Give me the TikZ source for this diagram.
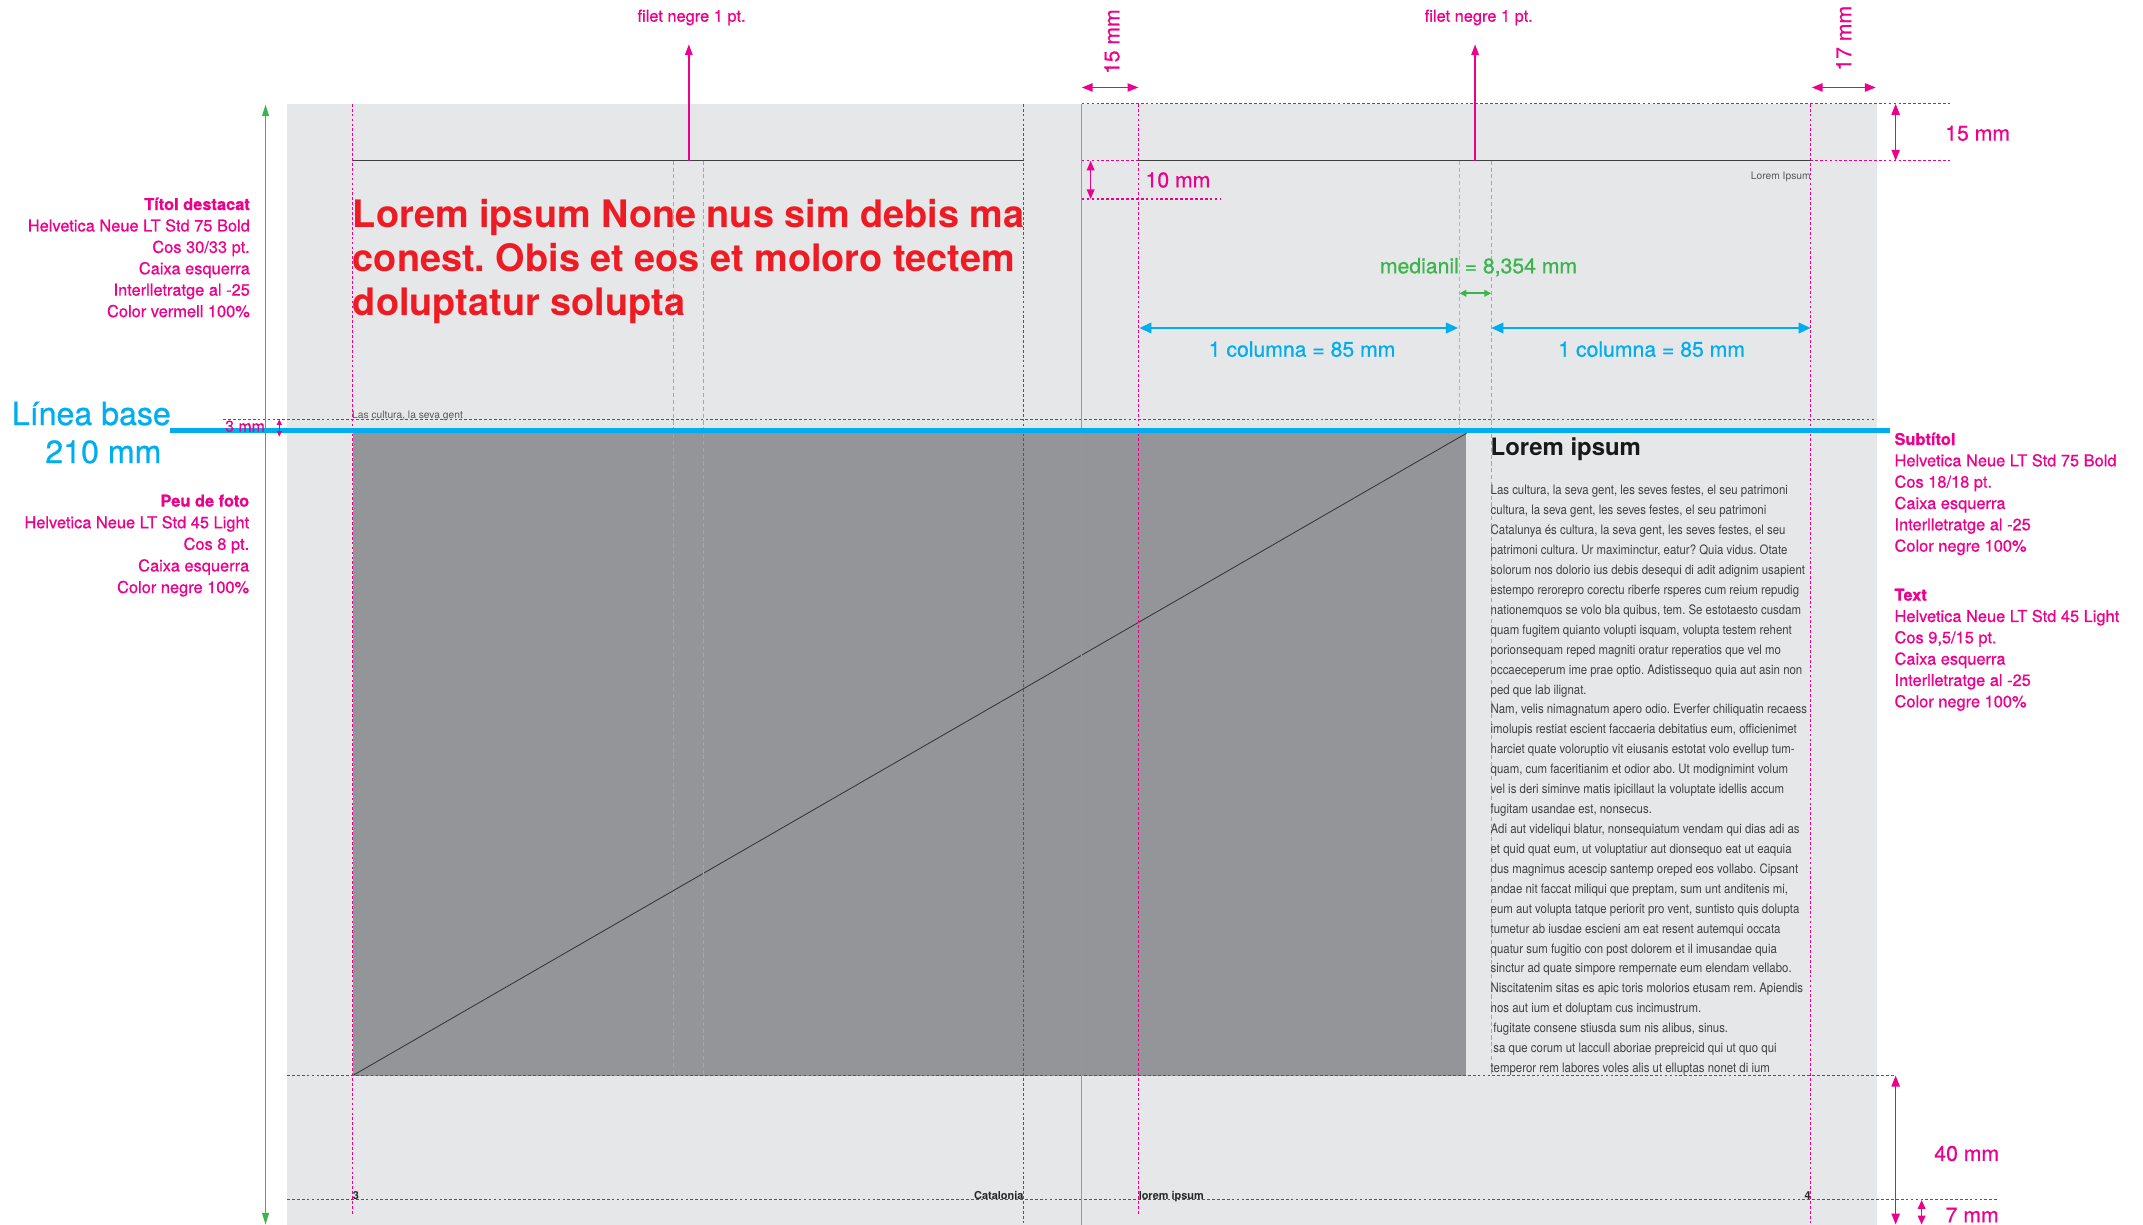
\documentclass[tikz,border=0pt]{standalone}
\usepackage{fontspec}
\setmainfont{TeX Gyre Heros}
\newfontfamily\lightfont[FakeStretch=0.88]{TeX Gyre Heros}
\newfontfamily\medfont[FakeBold=0.7]{TeX Gyre Heros}
\usetikzlibrary{arrows.meta,positioning}
\definecolor{guidepink}{HTML}{EC008C}
\definecolor{baseblue}{HTML}{00AEEF}
\definecolor{gridgreen}{HTML}{39B54A}
\definecolor{lightgreen}{HTML}{8DC63F}
\definecolor{pagegray}{HTML}{E6E7E8}
\definecolor{photogray}{HTML}{939598}
\definecolor{titlered}{HTML}{ED1C24}
\definecolor{textgray}{HTML}{414042}
\definecolor{spineblue}{HTML}{5FA8DA}
\frenchspacing

\begin{document}
\begin{tikzpicture}[x=1pt,y=-1pt,
  guide/.style={guidepink,line width=0.8pt,dash pattern=on 2pt off 1.6pt},
  colguide/.style={lightgreen,line width=0.7pt,dash pattern=on 3pt off 2pt},
  dimarrow/.style={guidepink,line width=1.2pt,>={Triangle[length=8pt,width=6pt]},<->},
  notetext/.style={guidepink,inner sep=0pt,font=\medfont\fontsize{12}{15}\selectfont},
  dimlabel/.style={guidepink,inner sep=0pt,font=\medfont\fontsize{15.5}{18}\selectfont},
  collabel/.style={baseblue,inner sep=0pt,anchor=base,font=\medfont\fontsize{15.5}{18}\selectfont},
  bodytext/.style={textgray,inner sep=0pt,anchor=base west,font=\lightfont\fontsize{9.5}{14}\selectfont},
  smalltext/.style={black!65,inner sep=0pt,font=\fontsize{7.5}{9}\selectfont},
  foliotext/.style={black!85,inner sep=0pt,font=\bfseries\fontsize{8}{10}\selectfont}]
\useasboundingbox (0,0) rectangle (1568,896);

\fill[pagegray] (210,76) rectangle (1373,896);
\fill[photogray] (258,317) rectangle (1073,787);
\draw[black!80,line width=0.6pt] (258,787) -- (1073,317);

\draw[guide] (791.5,76) -- (1427,76) (791.5,117.6) -- (1427,117.6) (791.5,145.6) -- (893,145.6);
\draw[guide] (163.4,306.8) -- (1373,306.8) (210,787) -- (1387,787) (210,877.5) -- (1461,877.5);
\draw[guide] (258,76) -- (258,888) (749,76) -- (749,896) (833,76) -- (833,888) (1325,76) -- (1325,896);
\draw[colguide] (492.5,117.6) -- (492.5,787) (515,117.6) -- (515,787) (1091,117.6) -- (1091,787);
\draw[colguide,black!30] (1068,117.6) -- (1068,317);
\draw[spineblue,line width=0.7pt] (791.5,76) -- (791.5,896);
\draw[black!75,line width=1.1pt] (258,117.6) -- (749,117.6) (833,117.6) -- (1325,117.6);
\draw[baseblue,line width=3.6pt] (124.4,315.2) -- (1383,315.2);

\foreach \txt [count=\i from 0] in {Lorem ipsum None nus sim debis ma, conest. Obis et eos et moloro tectem, doluptatur solupta}
  \node[titlered,inner sep=0pt,anchor=base west,font=\bfseries\fontsize{27.7}{32}\selectfont] (title\i) at (258,166.5+32*\i) {\txt};
\node[smalltext,anchor=base west] (caption) at (257.5,306) {Las cultura, la seva gent};
\node[smalltext,anchor=base east] (header) at (1325,131.7) {Lorem Ipsum};
\node[black!90,inner sep=0pt,anchor=base west,font=\bfseries\fontsize{17.5}{18}\selectfont] (subtitle) at (1090.5,333) {Lorem ipsum};
\foreach \txt [count=\i from 0] in {
  {Las cultura, la seva gent, les seves festes, el seu patrimoni},
  {cultura, la seva gent, les seves festes, el seu patrimoni},
  {Catalunya és cultura, la seva gent, les seves festes, el seu},
  {patrimoni cultura. Ur maximinctur, eatur? Quia vidus. Otate},
  {solorum nos dolorio ius debis desequi di adit adignim usapient},
  {estempo rerorepro corectu riberfe rsperes cum reium repudig},
  {nationemquos se volo bla quibus, tem. Se estotaesto cusdam},
  {quam fugitem quianto volupti isquam, volupta testem rehent},
  {porionsequam reped magniti oratur reperatios que vel mo},
  {occaeceperum ime prae optio. Adistissequo quia aut asin non},
  {ped que lab ilignat.},
  {Nam, velis nimagnatum apero odio. Everfer chiliquatin recaess},
  {imolupis restiat escient faccaeria debitatius eum, officienimet},
  {harciet quate voloruptio vit eiusanis estotat volo evellup tum-},
  {quam, cum faceritianim et odior abo. Ut modignimint volum},
  {vel is deri siminve matis ipicillaut la voluptate idellis accum},
  {fugitam usandae est, nonsecus.},
  {Adi aut videliqui blatur, nonsequiatum vendam qui dias adi as},
  {et quid quat eum, ut voluptatiur aut dionsequo eat ut eaquia},
  {dus magnimus acescip santemp oreped eos vollabo. Cipsant},
  {andae nit faccat miliqui que preptam, sum unt anditenis mi,},
  {eum aut volupta tatque periorit pro vent, suntisto quis dolupta},
  {tumetur ab iusdae escieni am eat resent autemqui occata},
  {quatur sum fugitio con post dolorem et il imusandae quia},
  {sinctur ad quate simpore rempernate eum elendam vellabo.},
  {Niscitatenim sitas es apic toris molorios etusam rem. Apiendis},
  {nos aut ium et doluptam cus incimustrum.},
  {\hspace{2pt}fugitate consene stiusda sum nis alibus, sinus.},
  {\hspace{2pt}sa que corum ut laccull aboriae prepreicid qui ut quo qui},
  {temperor rem labores voles alis ut elluptas nonet di ium}}
  \node[bodytext] (body\i) at (1090.5,362+14.58*\i) {\txt};

\node[foliotext,anchor=base west] (folioL) at (258,877.5) {3};
\node[foliotext,anchor=base east] (runL) at (749,877.5) {Catalonia};
\node[foliotext,anchor=base west] (runR) at (833,877.5) {lorem ipsum};
\node[foliotext,anchor=base east] (folioR) at (1325,877.5) {4};

\draw[gridgreen,line width=1pt,>={Triangle[length=8.5pt,width=5pt]},<->] (194.3,76.5) -- (194.3,896);
\node[baseblue,inner sep=0pt,anchor=base west,font=\medfont\fontsize{23.5}{26}\selectfont] (linea) at (8.5,311) {Línea base};
\node[baseblue,inner sep=0pt,anchor=base west,font=\medfont\fontsize{23.5}{26}\selectfont] (linea210) at (33,338.8) {210 mm};
\draw[dimarrow,>={Triangle[length=4pt,width=3.5pt]}] (204.4,306.8) -- (204.4,319.5);
\node[notetext,anchor=base east,font=\medfont\fontsize{11.6}{14}\selectfont] (tres) at (194,315.9) {3 mm};

\foreach \txt [count=\i from 0] in {{\bfseries Títol destacat}, Helvetica Neue LT Std 75 Bold, Cos 30/33 pt., Caixa esquerra, Interlletratge al -25, Color vermell 100\%}
  \node[notetext,anchor=base east] (titol\i) at (183,153.7+15.66*\i) {\txt};
\foreach \txt [count=\i from 0] in {{\bfseries Peu de foto}, Helvetica Neue LT Std 45 Light, Cos 8 pt., Caixa esquerra, Color negre 100\%}
  \node[notetext,anchor=base east] (peu\i) at (182.5,370.7+15.8*\i) {\txt};
\foreach \txt [count=\i from 0] in {{\bfseries Subtítol}, Helvetica Neue LT Std 75 Bold, Cos 18/18 pt., Caixa esquerra, Interlletratge al -25, Color negre 100\%}
  \node[notetext,anchor=base west] (subt\i) at (1386,325.6+15.6*\i) {\txt};
\foreach \txt [count=\i from 0] in {{\bfseries Text}, Helvetica Neue LT Std 45 Light, {Cos 9,5/15 pt.}, Caixa esquerra, Interlletratge al -25, Color negre 100\%}
  \node[notetext,anchor=base west] (textn\i) at (1386,439.5+15.6*\i) {\txt};

\draw[guidepink,line width=1.2pt,-{Triangle[length=8pt,width=5.5pt]}] (504,117.6) -- (504,32.4);
\draw[guidepink,line width=1.2pt,-{Triangle[length=8pt,width=5.5pt]}] (1079.3,117.6) -- (1079.3,32.4);
\node[notetext,anchor=base] (filetL) at (506,15.9) {filet negre 1 pt.};
\node[notetext,anchor=base] (filetR) at (1082,15.9) {filet negre 1 pt.};

\draw[dimarrow] (791.5,64) -- (833,64);
\node[dimlabel,rotate=90] (margeint) at (813.6,30.5) {15 mm};
\draw[dimarrow] (1325.6,64) -- (1372.5,64);
\node[dimlabel,rotate=90] (margeext) at (1349,28) {17 mm};
\draw[dimarrow] (1387,76) -- (1387,117.6);
\node[dimlabel] (margesup) at (1447,97.5) {15 mm};
\draw[dimarrow,>={Triangle[length=7pt,width=5.5pt]}] (798,117.6) -- (798,145.6);
\node[dimlabel,anchor=west] (cap) at (838,131.7) {10 mm};
\draw[dimarrow] (1387,787) -- (1387,896);
\node[dimlabel] (margeinf) at (1439,844) {40 mm};
\draw[dimarrow,>={Triangle[length=6.5pt,width=5.5pt]}] (1406,878) -- (1406,896);
\node[dimlabel] (peu) at (1443,889) {7 mm};

\node[collabel,gridgreen] (medianil) at (1081.8,200) {medianil = 8,354 mm};
\draw[gridgreen,line width=1.2pt,>={Triangle[length=5pt,width=5pt]},<->] (1068,214.6) -- (1091,214.6);
\draw[baseblue,line width=2pt,>={Triangle[length=9pt,width=7.5pt]},<->] (833.5,240) -- (1067,240);
\draw[baseblue,line width=2pt,>={Triangle[length=9pt,width=7.5pt]},<->] (1091,240) -- (1325,240);
\node[collabel] (col1) at (952.7,261) {1 columna = 85 mm};
\node[collabel] (col2) at (1208.5,261) {1 columna = 85 mm};
\end{tikzpicture}
\end{document}
